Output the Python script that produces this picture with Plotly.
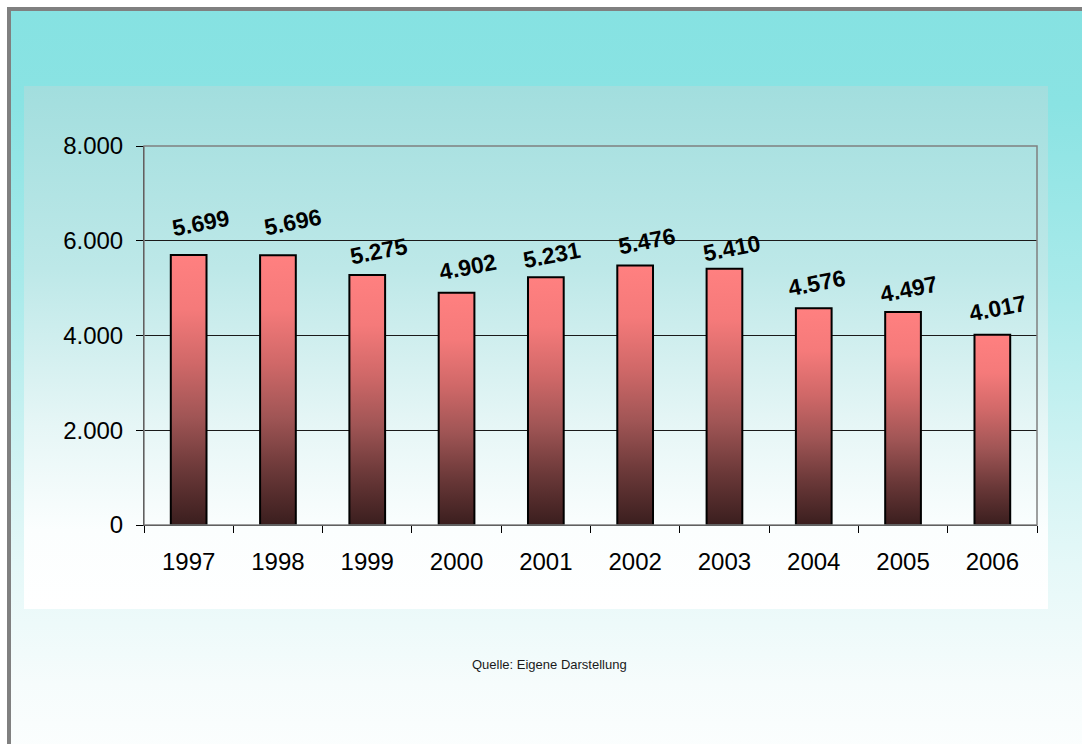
import base64
import plotly.graph_objects as go

# ---- data ----
years = ["1997", "1998", "1999", "2000", "2001", "2002", "2003", "2004", "2005", "2006"]
values = [5699, 5696, 5275, 4902, 5231, 5476, 5410, 4576, 4497, 4017]
y_tick_vals = [0, 2000, 4000, 6000, 8000]
source_note = "Quelle: Eigene Darstellung"

# ---- label placement (style, in pixels) ----
label_dx = [12, 15, 12, 11, 6, 12, 8, 3, 6, 6]
label_dy = [32, 33, 24, 26, 22, 25, 21, 25, 23, 27]

W, H = 1082, 744

def de_num(v):
    return f"{v:,}".replace(",", ".")

# ---- background (gradients + frame) as an svg image ----
svg = f"""<svg xmlns='http://www.w3.org/2000/svg' width='{W}' height='{H}' viewBox='0 0 {W} {H}' preserveAspectRatio='none'>
<defs>
<linearGradient id='outer' x1='0' y1='0' x2='0' y2='1'>
<stop offset='0' stop-color='#86e2e2'/>
<stop offset='0.12' stop-color='#8ae3e3'/>
<stop offset='0.35' stop-color='#a9eaea'/>
<stop offset='0.6' stop-color='#d6f4f4'/>
<stop offset='0.7' stop-color='#e5f8f8'/>
<stop offset='0.85' stop-color='#f6fcfc'/>
<stop offset='1' stop-color='#ffffff'/>
</linearGradient>
<linearGradient id='inner' x1='0' y1='0' x2='0' y2='1'>
<stop offset='0' stop-color='#a2dede'/>
<stop offset='0.35' stop-color='#bde8e8'/>
<stop offset='0.65' stop-color='#e6f6f6'/>
<stop offset='0.85' stop-color='#fbfefe'/>
<stop offset='1' stop-color='#ffffff'/>
</linearGradient>
</defs>
<rect x='0' y='0' width='{W}' height='{H}' fill='#ffffff'/>
<rect x='9' y='9' width='{W+50}' height='{H+50}' fill='url(#outer)' stroke='#808080' stroke-width='4'/>
<rect x='24' y='86' width='1024' height='523' fill='url(#inner)'/>
</svg>"""
bg_src = "data:image/svg+xml;base64," + base64.b64encode(svg.encode()).decode()

fig = go.Figure()

bar_width = 0.4
bar_scale = [[0.0, "#3a1e1e"], [0.2, "#6a3838"], [0.4, "#a05555"],
             [0.6, "#d06868"], [0.8, "#f57a7a"], [1.0, "#ff8080"]]

for i, (yr, v) in enumerate(zip(years, values)):
    x0, x1 = i - bar_width / 2, i + bar_width / 2
    fig.add_trace(go.Scatter(
        x=[x0, x1, x1, x0, x0], y=[0, 0, v, v, 0],
        mode="lines", fill="toself",
        fillgradient=dict(type="vertical", colorscale=bar_scale, start=0, stop=v),
        line=dict(color="#000000", width=2),
        hoverinfo="text", text=f"{yr}: {de_num(v)}",
        showlegend=False,
    ))
    fig.add_annotation(
        x=i, y=v, xref="x", yref="y", text=f"<b>{de_num(v)}</b>",
        showarrow=False, textangle=-11, xshift=label_dx[i], yshift=label_dy[i],
        font=dict(family="Liberation Sans, Arial", size=23, color="#000000"),
    )

fig.add_annotation(
    x=549 / W, y=1 - 664 / H, xref="paper", yref="paper", text=source_note,
    xanchor="center", yanchor="middle",
    showarrow=False, font=dict(family="Liberation Sans, Arial", size=13, color="#1a1a1a"),
)

# plot-area frame (top/right gray)
fig.add_shape(type="rect", xref="x domain", yref="y domain", x0=0, x1=1, y0=0, y1=1,
              line=dict(color="#808080", width=1.5), layer="above")

fig.update_layout(
    width=W, height=H, autosize=False,
    margin=dict(l=0, r=0, t=0, b=0, pad=0),
    paper_bgcolor="#ffffff", plot_bgcolor="rgba(0,0,0,0)",
    separators=",.",
    showlegend=False,
    images=[dict(source=bg_src, xref="paper", yref="paper", x=0, y=1, sizex=1, sizey=1,
                 xanchor="left", yanchor="top", sizing="stretch", layer="below")],
    xaxis=dict(
        domain=[144 / W, 1037 / W], range=[-0.5, len(years) - 0.5],
        tickmode="array", tickvals=list(range(len(years))), ticktext=years,
        ticks="", showgrid=False, zeroline=False,
        showline=True, linecolor="#000000", linewidth=1,
        minor=dict(tickmode="linear", tick0=-0.5, dtick=1, ticks="outside",
                   ticklen=7, tickcolor="#000000", tickwidth=1, showgrid=False),
        ticklabelstandoff=15, automargin=False,
        tickfont=dict(family="Liberation Sans, Arial", size=24, color="#000000"),
        fixedrange=True,
    ),
    yaxis=dict(
        domain=[(H - 525) / H, (H - 146) / H], range=[0, 8000],
        tickmode="array", tickvals=y_tick_vals, tickformat=",d",
        ticks="outside", ticklen=7, tickcolor="#000000", tickwidth=1,
        showgrid=True, gridcolor="#1a1a1a", gridwidth=1,
        zeroline=False, showline=True, linecolor="#000000", linewidth=1,
        ticklabelstandoff=8, automargin=False,
        tickfont=dict(family="Liberation Sans, Arial", size=24, color="#000000"),
        fixedrange=True,
    ),
)

fig.write_html(
    "out.html",
    config={"responsive": False, "displayModeBar": False},
    post_script="document.body.style.margin='0';document.body.style.overflow='hidden';",
)
